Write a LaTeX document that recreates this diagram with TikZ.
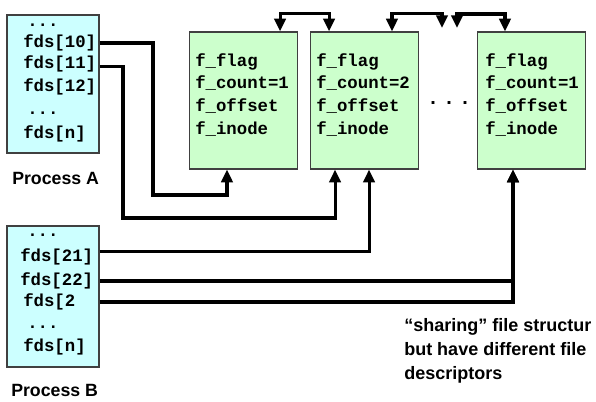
\documentclass[tikz,border=0pt]{standalone}
\usepackage{fontspec}
\setmainfont{Liberation Sans}
\newfontfamily\codefont{Liberation Mono}
\usetikzlibrary{arrows.meta}
\definecolor{fdcyan}{RGB}{204,255,255}
\definecolor{filegreen}{RGB}{204,255,204}
\tikzset{
	fdtable/.style={draw=black!75, line width=0.9pt, fill=fdcyan, minimum width=69pt, inner sep=0pt},
	filebox/.style={draw=black!75, line width=0.9pt, fill=filegreen, minimum width=81.5pt, minimum height=102.75pt, inner sep=0pt},
	code/.style={font=\codefont\bfseries\fontsize{13}{15}\selectfont, inner sep=0pt},
	proc/.style={font=\bfseries\fontsize{13.3}{16}\selectfont, inner sep=0pt, anchor=west},
	note/.style={font=\bfseries\fontsize{13.5}{18}\selectfont, inner sep=0pt, align=left, anchor=north west},
	link/.style={line width=2.3pt, -{Triangle[width=8.5pt, length=9.5pt]}},
	twoway/.style={line width=2.3pt, {Triangle[width=8.5pt, length=9.5pt]}-{Triangle[width=8.5pt, length=9.5pt]}}
}
\begin{document}
\begin{tikzpicture}[x=0.75pt, y=-0.75pt]
		\useasboundingbox (0, 0) rectangle (596, 402);
		\node[fdtable, minimum height=103.5pt](pA) at (53, 84){};
		\node[fdtable, minimum height=105.75pt](pB) at (53, 296.5){};
		\node[code, anchor=west](a0) at (27, 25){...};
		\node[code, anchor=west](a10) at (23, 43){fds[10]};
		\node[code, anchor=west](a11) at (23, 64){fds[11]};
		\node[code, anchor=west](a12) at (23, 87){fds[12]};
		\node[code, anchor=west](a1) at (27, 113){...};
		\node[code, anchor=west](an) at (23, 134){fds[n]};
		\node[proc](labA) at (12, 178){Process A};
		\node[code, anchor=west](b0) at (27, 235){...};
		\node[code, anchor=west](b21) at (20, 257){fds[21]};
		\node[code, anchor=west](b22) at (20, 281){fds[22]};
		\node[code, anchor=west](b23) at (23, 302){fds[2};
		\node[code, anchor=west](b1) at (27, 327){...};
		\node[code, anchor=west](bn) at (23, 347){fds[n]};
		\node[proc](labB) at (11, 390){Process B};
		\node[filebox](f1) at (243.5, 100.5){};
		\node[filebox](f2) at (364.5, 100.5){};
		\node[filebox](f3) at (531.5, 100.5){};
		\foreach \n/\x/\c in {f1/195/1, f2/316/2, f3/485/1}{
			\node[code, anchor=base west](\n-flag) at (\x, 67){f\_flag};
			\node[code, anchor=base west](\n-count) at (\x, 89){f\_count=\c};
			\node[code, anchor=base west](\n-offset) at (\x, 112){f\_offset};
			\node[code, anchor=base west](\n-inode) at (\x, 135){f\_inode};
		}
		\node[code, font=\codefont\bfseries\fontsize{15}{15}\selectfont](more) at (449, 103){.\kern3pt.\kern3pt.};
		\coordinate(gapL) at (442, 28);
		\coordinate(gapR) at (457, 28);
		\draw[link](pA.east |- a10) -| (153, 195) -| ([xshift=-12.4pt]f1.south);
		\draw[link]([yshift=-2pt]pA.east |- a11) -| (123, 218) -| ([xshift=-22.1pt]f2.south);
		\draw[link]([yshift=4pt]pB.east |- b21) -| ([xshift=3.4pt]f2.south);
		\draw[link](pB.east |- b22) -| ([xshift=-13.9pt]f3.south);
		\draw[link](pB.east |- b23) -| ([xshift=-13.9pt]f3.south);
		\draw[twoway]([xshift=27.4pt]f1.north) -- ++(0, -18) -| ([xshift=-26.6pt]f2.north);
		\draw[twoway]([xshift=20.6pt]f2.north) -- ++(0, -18) -| (gapL);
		\draw[twoway](gapR) -- ++(0, -14) -| ([xshift=-19.9pt]f3.north);
		\node[note](share) at (404, 318){“sharing” file structur\\but have different file\\descriptors};
	\end{tikzpicture}
\end{document}
